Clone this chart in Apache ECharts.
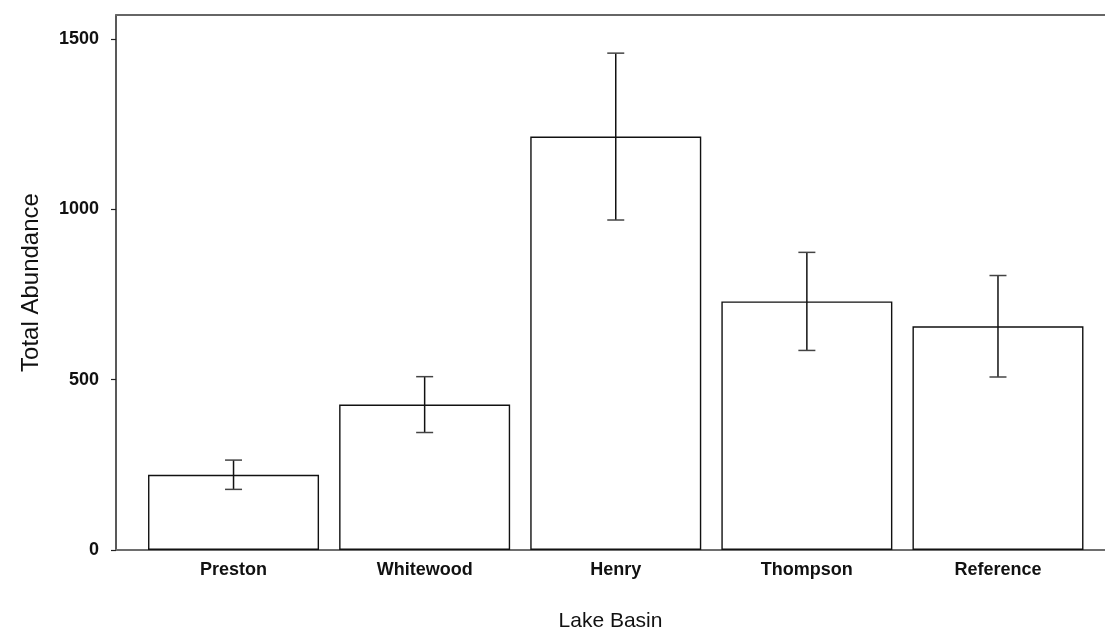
<!DOCTYPE html>
<html>
<head>
<meta charset="utf-8">
<script src="https://cdn.jsdelivr.net/npm/echarts@6/dist/echarts.min.js"></script>
<style>
  html, body { margin: 0; padding: 0; background: #fff; }
  #chart { width: 1105px; height: 629px; }
</style>
</head>
<body>
<div id="chart"></div>
<script>
// Lake basins and mean total abundance with +/- error
const categories = ['Preston', 'Whitewood', 'Henry', 'Thompson', 'Reference'];
const means = [221, 427, 1214, 730, 657];
const errors = [43, 82, 245, 144, 149];
const yTicks = [0, 500, 1000, 1500];

const positions = categories.map((_, i) => i);
const barData = means.map((v, i) => [positions[i], v]);
const errData = means.map((v, i) => [positions[i], v - errors[i], v + errors[i]]);

const font = '"Liberation Sans", Arial, sans-serif';
const chart = echarts.init(document.getElementById('chart'), null, { renderer: 'canvas' });

chart.setOption({
  backgroundColor: '#ffffff',
  animation: false,
  grid: { left: 116, right: 0, top: 15, bottom: 79, containLabel: false, outerBoundsMode: 'none' },
  xAxis: [{
    type: 'value',
    min: -0.615,
    max: 4.56,
    splitLine: { show: false },
    axisLine: { show: true, onZero: false, lineStyle: { color: '#6e6e6e', width: 2 } },
    axisTick: { show: false },
    axisLabel: {
      customValues: positions,
      formatter: v => categories[Math.round(v)],
      fontFamily: font, fontSize: 18, fontWeight: 'bold', color: '#111',
      margin: 11
    },
    name: 'Lake Basin',
    nameLocation: 'middle',
    nameGap: 61,
    nameTextStyle: { fontFamily: font, fontSize: 21, color: '#111' }
  }, {
    type: 'value',
    position: 'top',
    min: -0.615,
    max: 4.56,
    splitLine: { show: false },
    axisLine: { show: true, onZero: false, lineStyle: { color: '#666', width: 2 } },
    axisTick: { show: false },
    axisLabel: { show: false }
  }],
  yAxis: {
    type: 'value',
    min: 0,
    max: 1571,
    splitLine: { show: false },
    axisLine: { show: true, onZero: false, lineStyle: { color: '#222', width: 1.5 } },
    axisTick: { show: true, length: 5, customValues: yTicks, lineStyle: { color: '#222', width: 1.2 } },
    axisLabel: {
      customValues: yTicks,
      formatter: v => String(v),
      fontFamily: font, fontSize: 18, fontWeight: 'bold', color: '#111',
      margin: 17
    },
    name: 'Total Abundance',
    nameLocation: 'middle',
    nameRotate: 90,
    nameGap: 73,
    nameTextStyle: { fontFamily: font, fontSize: 24, color: '#111' }
  },
  series: [{
    type: 'bar',
    data: barData,
    barWidth: 171,
    itemStyle: { color: '#ffffff', borderColor: '#111', borderWidth: 1.4 },
    z: 2
  }, {
    type: 'custom',
    data: errData,
    z: 3,
    renderItem: function (params, api) {
      const x = api.value(0);
      const lo = api.coord([x, api.value(1)]);
      const hi = api.coord([x, api.value(2)]);
      const half = 8.5;
      const stem = { stroke: '#111', lineWidth: 1.5 };
      const cap = { stroke: '#444', lineWidth: 1.5 };
      return {
        type: 'group',
        children: [
          { type: 'line', shape: { x1: hi[0], y1: hi[1], x2: lo[0], y2: lo[1] }, style: stem },
          { type: 'line', shape: { x1: hi[0] - half, y1: hi[1], x2: hi[0] + half, y2: hi[1] }, style: cap },
          { type: 'line', shape: { x1: lo[0] - half, y1: lo[1], x2: lo[0] + half, y2: lo[1] }, style: cap }
        ]
      };
    }
  }]
});
</script>
</body>
</html>
